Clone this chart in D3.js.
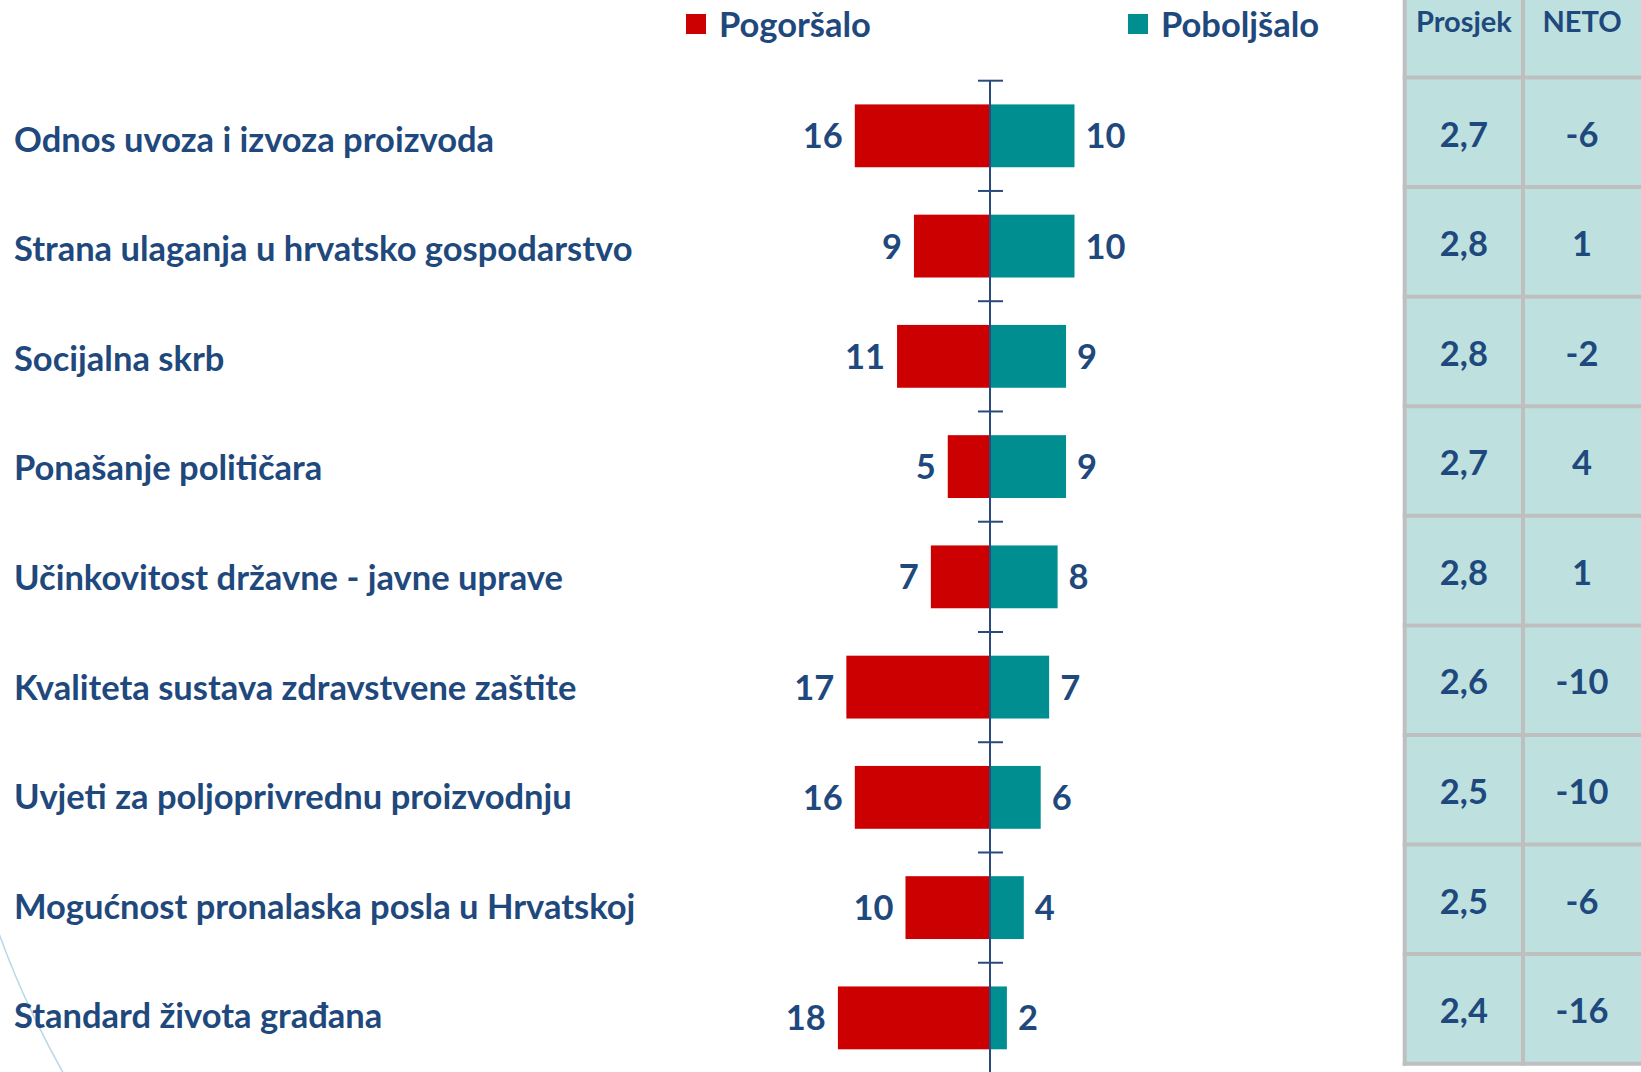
<!DOCTYPE html>
<html>
<head>
<meta charset="utf-8">
<script src="https://cdn.jsdelivr.net/npm/d3@7"></script>
<style>
  html, body { margin: 0; padding: 0; background: #FFFFFF; }
  svg { display: block; font-family: Lato, 'Open Sans', sans-serif; font-weight: 700; }
</style>
</head>
<body>
<svg id="chart" width="1641" height="1072"></svg>
<script>
// 데이터
const categories = [
  'Odnos uvoza i izvoza proizvoda',
  'Strana ulaganja u hrvatsko gospodarstvo',
  'Socijalna skrb',
  'Ponašanje političara',
  'Učinkovitost državne - javne uprave',
  'Kvaliteta sustava zdravstvene zaštite',
  'Uvjeti za poljoprivrednu proizvodnju',
  'Mogućnost pronalaska posla u Hrvatskoj',
  'Standard života građana'
];
const worse = [16, 9, 11, 5, 7, 17, 16, 10, 18];     // Pogoršalo
const better = [10, 10, 9, 9, 8, 7, 6, 4, 2];        // Poboljšalo
const prosjek = ['2,7', '2,8', '2,8', '2,7', '2,8', '2,6', '2,5', '2,5', '2,4'];
const neto = [-6, 1, -2, 4, 1, -10, -10, -6, -16];
const seriesNames = ['Pogoršalo', 'Poboljšalo'];
const tableHeaders = ['Prosjek', 'NETO'];

const navy = '#1F497D';
const red = '#CC0000';
const teal = '#008E91';
const fontSize = '34.5px';

const svg = d3.select('#chart');

// 장식용 곡선 (왼쪽 아래)
svg.append('path')
  .attr('d', 'M -4,925 Q 22,1000 66,1078')
  .attr('fill', 'none')
  .attr('stroke', '#BCD8E6')
  .attr('stroke-width', 1.6);

// 스케일
const xScale = d3.scaleLinear().domain([-20, 20]).range([990 - 169, 990 + 169]);
const yCell = d3.scaleBand().domain(categories).range([80.7, 1073]);          // 눈금 칸
const yBar = yCell.copy().paddingInner(0.43).paddingOuter(0.215);          // 막대
const yRow = d3.scaleBand().domain(categories).range([77.5, 1063.7]);       // 표 행

const rows = categories.map((c, i) => ({ name: c, worse: worse[i], better: better[i], prosjek: prosjek[i], neto: neto[i] }));

// 카테고리 라벨
svg.append('g')
  .selectAll('text')
  .data(rows)
  .enter()
  .append('text')
  .attr('x', 14)
  .attr('y', d => yRow(d.name) + yRow.bandwidth() / 2 + 19.4)
  .attr('fill', navy)
  .style('font-size', fontSize)
  .text(d => d.name);

// 막대 - 왼쪽 (Pogoršalo)
svg.append('g')
  .selectAll('rect')
  .data(rows)
  .enter()
  .append('rect')
  .attr('x', d => xScale(-d.worse))
  .attr('y', d => yBar(d.name))
  .attr('width', d => xScale(0) - xScale(-d.worse))
  .attr('height', yBar.bandwidth())
  .attr('fill', red);

// 막대 - 오른쪽 (Poboljšalo)
svg.append('g')
  .selectAll('rect')
  .data(rows)
  .enter()
  .append('rect')
  .attr('x', xScale(0))
  .attr('y', d => yBar(d.name))
  .attr('width', d => xScale(d.better) - xScale(0))
  .attr('height', yBar.bandwidth())
  .attr('fill', teal);

// 축 (세로선과 눈금)
const axis = svg.append('g').attr('stroke', '#2B4A7C').attr('stroke-width', 2);
axis.append('line')
  .attr('x1', xScale(0)).attr('x2', xScale(0))
  .attr('y1', yCell.range()[0]).attr('y2', yCell.range()[1]);
axis.selectAll('line.tick')
  .data(categories)
  .enter()
  .append('line')
  .attr('class', 'tick')
  .attr('x1', xScale(0) - 12).attr('x2', xScale(0) + 13)
  .attr('y1', d => yCell(d)).attr('y2', d => yCell(d));

// 값 라벨
svg.append('g')
  .selectAll('text')
  .data(rows)
  .enter()
  .append('text')
  .attr('x', d => xScale(-d.worse) - 12)
  .attr('y', d => yCell(d.name) + yCell.bandwidth() / 2 + 12.5)
  .attr('text-anchor', 'end')
  .attr('fill', navy)
  .style('font-size', fontSize)
  .text(d => d.worse);

svg.append('g')
  .selectAll('text')
  .data(rows)
  .enter()
  .append('text')
  .attr('x', d => xScale(d.better) + 11)
  .attr('y', d => yCell(d.name) + yCell.bandwidth() / 2 + 12.5)
  .attr('fill', navy)
  .style('font-size', fontSize)
  .text(d => d.better);

// 범례
const legendX = [686, 1128];
const legend = svg.append('g')
  .selectAll('g')
  .data(seriesNames)
  .enter()
  .append('g')
  .attr('transform', (d, i) => `translate(${legendX[i]},0)`);
legend.append('rect')
  .attr('x', 0).attr('y', 14)
  .attr('width', 20).attr('height', 20)
  .attr('fill', (d, i) => [red, teal][i]);
legend.append('text')
  .attr('x', 33)
  .attr('y', 37.3)
  .attr('fill', navy)
  .style('font-size', fontSize)
  .text(d => d);

// 오른쪽 표
const colX = [1404.7, 1523, 1641];
const table = svg.append('g');
table.append('rect')
  .attr('x', colX[0]).attr('y', -10)
  .attr('width', 300).attr('height', yRow.range()[1] + 10)
  .attr('fill', '#BEE1E0');

const grid = table.append('g').attr('stroke', '#BFBFBF').attr('stroke-width', 4);
grid.selectAll('line.v')
  .data(colX.slice(0, 2))
  .enter()
  .append('line')
  .attr('x1', d => d).attr('x2', d => d)
  .attr('y1', -10).attr('y2', yRow.range()[1] + 2);
grid.selectAll('line.h')
  .data(categories.map(c => yRow(c)).concat([yRow.range()[1]]))
  .enter()
  .append('line')
  .attr('x1', colX[0] - 2).attr('x2', 1645)
  .attr('y1', d => d).attr('y2', d => d);

// 표 머리글
table.selectAll('text.head')
  .data(tableHeaders)
  .enter()
  .append('text')
  .attr('class', 'head')
  .attr('x', (d, i) => (colX[i] + colX[i + 1]) / 2)
  .attr('y', 31.7)
  .attr('text-anchor', 'middle')
  .attr('fill', navy)
  .style('font-size', '29px')
  .text(d => d);

// 표 값
table.selectAll('text.prosjek')
  .data(rows)
  .enter()
  .append('text')
  .attr('class', 'prosjek')
  .attr('x', (colX[0] + colX[1]) / 2)
  .attr('y', d => yRow(d.name) + yRow.bandwidth() / 2 + 14.3)
  .attr('text-anchor', 'middle')
  .attr('fill', navy)
  .style('font-size', fontSize)
  .text(d => d.prosjek);

table.selectAll('text.neto')
  .data(rows)
  .enter()
  .append('text')
  .attr('class', 'neto')
  .attr('x', (colX[1] + colX[2]) / 2)
  .attr('y', d => yRow(d.name) + yRow.bandwidth() / 2 + 14.3)
  .attr('text-anchor', 'middle')
  .attr('fill', navy)
  .style('font-size', fontSize)
  .text(d => d.neto);
</script>
</body>
</html>
